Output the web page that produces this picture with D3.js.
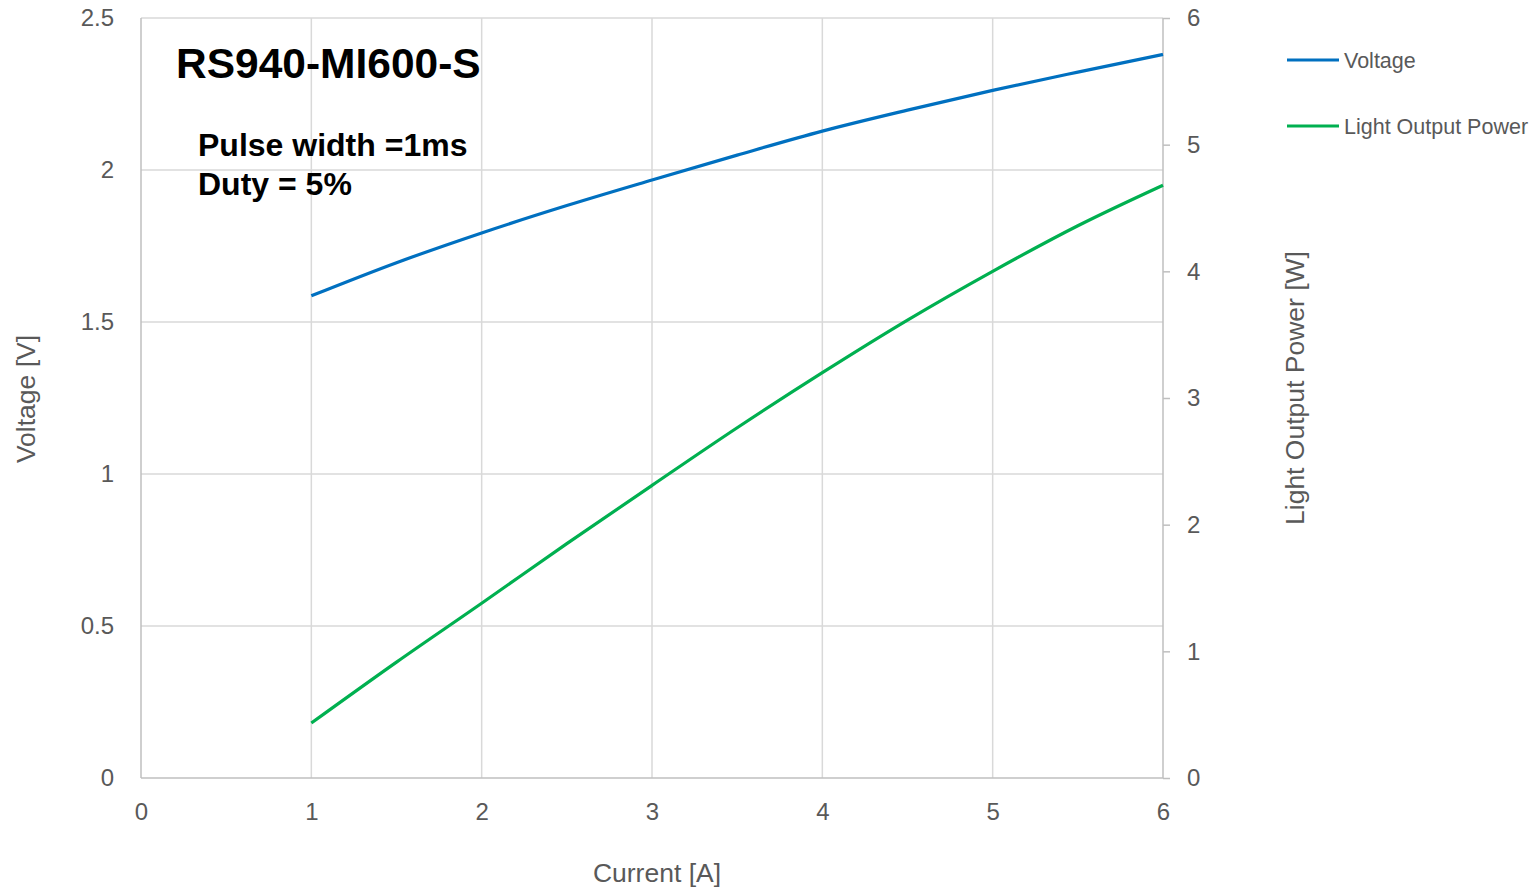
<!DOCTYPE html>
<html><head><meta charset="utf-8">
<script src="https://cdn.jsdelivr.net/npm/d3@7"></script>
<style>body{margin:0;background:#fff}svg{display:block}text{font-family:"Liberation Sans",Arial,sans-serif}</style>
</head><body><svg id="c" width="1540" height="890"></svg>
<script>
const current = [1, 1.5, 2, 2.5, 3, 3.5, 4, 4.5, 5, 5.5, 6];
const voltage = [1.586, 1.695, 1.793, 1.883, 1.967, 2.049, 2.128, 2.197, 2.262, 2.322, 2.380];
const power = [0.434, 0.915, 1.38, 1.85, 2.31, 2.765, 3.20, 3.615, 4.00, 4.36, 4.68];
const xTicks = [0, 1, 2, 3, 4, 5, 6];
const yLeftTicks = [0, 0.5, 1, 1.5, 2, 2.5];
const yRightTicks = [0, 1, 2, 3, 4, 5, 6];
const seriesNames = ["Voltage", "Light Output Power"];
const colors = ["#0070c0", "#00b050"];

const svg = d3.select("#c");
const L = 141, R = 1163, T = 18, B = 778;
const x = d3.scaleLinear().domain([0, 6]).range([L, R]);
const yL = d3.scaleLinear().domain([0, 2.5]).range([B, T]);
const yR = d3.scaleLinear().domain([0, 6]).range([B, T]);
const txt = "#595959";

// gridlines
svg.append("g").selectAll("line").data(yLeftTicks.filter(d => d > 0)).join("line")
  .attr("x1", L).attr("x2", R).attr("y1", d => yL(d)).attr("y2", d => yL(d))
  .attr("stroke", "#d9d9d9").attr("stroke-width", 1.5);
svg.append("g").selectAll("line").data(xTicks.filter(d => d > 0 && d < 6)).join("line")
  .attr("x1", d => x(d)).attr("x2", d => x(d)).attr("y1", T).attr("y2", B)
  .attr("stroke", "#d9d9d9").attr("stroke-width", 1.5);

// axes
const ax = svg.append("g").attr("transform", `translate(0,${B})`)
  .call(d3.axisBottom(x).tickValues(xTicks).tickFormat(d3.format("d")).tickSize(0).tickPadding(25));
const ayL = svg.append("g").attr("transform", `translate(${L},0)`)
  .call(d3.axisLeft(yL).tickValues(yLeftTicks).tickFormat(d => d3.format("")(d)).tickSize(0).tickPadding(27));
const ayR = svg.append("g").attr("transform", `translate(${R},0)`)
  .call(d3.axisRight(yR).tickValues(yRightTicks).tickFormat(d3.format("d")).tickSize(7).tickPadding(17));
[ax, ayL, ayR].forEach(g => {
  g.select(".domain").attr("stroke", "#bfbfbf").attr("stroke-width", 1.5);
  g.selectAll(".tick line").attr("stroke", "#bfbfbf").attr("stroke-width", 1.5);
  g.selectAll("text").attr("fill", txt).style("font-size", "24px").style("font-family", "Liberation Sans, Arial, sans-serif");
});
ayR.select(".domain").attr("d", `M0,${T}V${B}`);
ax.select(".domain").attr("d", `M${L},0H${R}`);
ayL.select(".domain").attr("d", `M0,${T}V${B}`);

// lines
const lineV = d3.line().x((d, i) => x(current[i])).y(d => yL(d)).curve(d3.curveMonotoneX);
const lineP = d3.line().x((d, i) => x(current[i])).y(d => yR(d)).curve(d3.curveMonotoneX);
svg.append("path").datum(voltage).attr("d", lineV).attr("fill", "none").attr("stroke", colors[0]).attr("stroke-width", 3.2);
svg.append("path").datum(power).attr("d", lineP).attr("fill", "none").attr("stroke", colors[1]).attr("stroke-width", 3.2);

// axis titles
svg.append("text").attr("x", 657).attr("y", 882).attr("text-anchor", "middle")
  .attr("fill", txt).style("font-size", "26.5px").text("Current [A]");
svg.append("text").attr("transform", "translate(35,399) rotate(-90)").attr("text-anchor", "middle")
  .attr("fill", txt).style("font-size", "26.5px").text("Voltage [V]");
svg.append("text").attr("transform", "translate(1304,388) rotate(-90)").attr("text-anchor", "middle")
  .attr("fill", txt).style("font-size", "26.5px").text("Light Output Power [W]");

// annotations
svg.append("text").attr("x", 176).attr("y", 78).attr("fill", "#000").style("font-size", "42.5px").style("font-weight", "bold").text("RS940-MI600-S");
svg.append("text").attr("x", 198).attr("y", 156).attr("fill", "#000").style("font-size", "32px").style("font-weight", "bold").text("Pulse width =1ms");
svg.append("text").attr("x", 198).attr("y", 195).attr("fill", "#000").style("font-size", "32px").style("font-weight", "bold").text("Duty = 5%");

// legend
const lg = svg.append("g").selectAll("g").data(seriesNames).join("g")
  .attr("transform", (d, i) => `translate(1287,${60 + i * 66})`);
lg.append("line").attr("x1", 0).attr("x2", 52).attr("stroke", (d, i) => colors[i]).attr("stroke-width", 3.2);
lg.append("text").attr("x", 57).attr("y", 7.7).attr("fill", txt).style("font-size", "21.5px").text(d => d);
</script></body></html>
